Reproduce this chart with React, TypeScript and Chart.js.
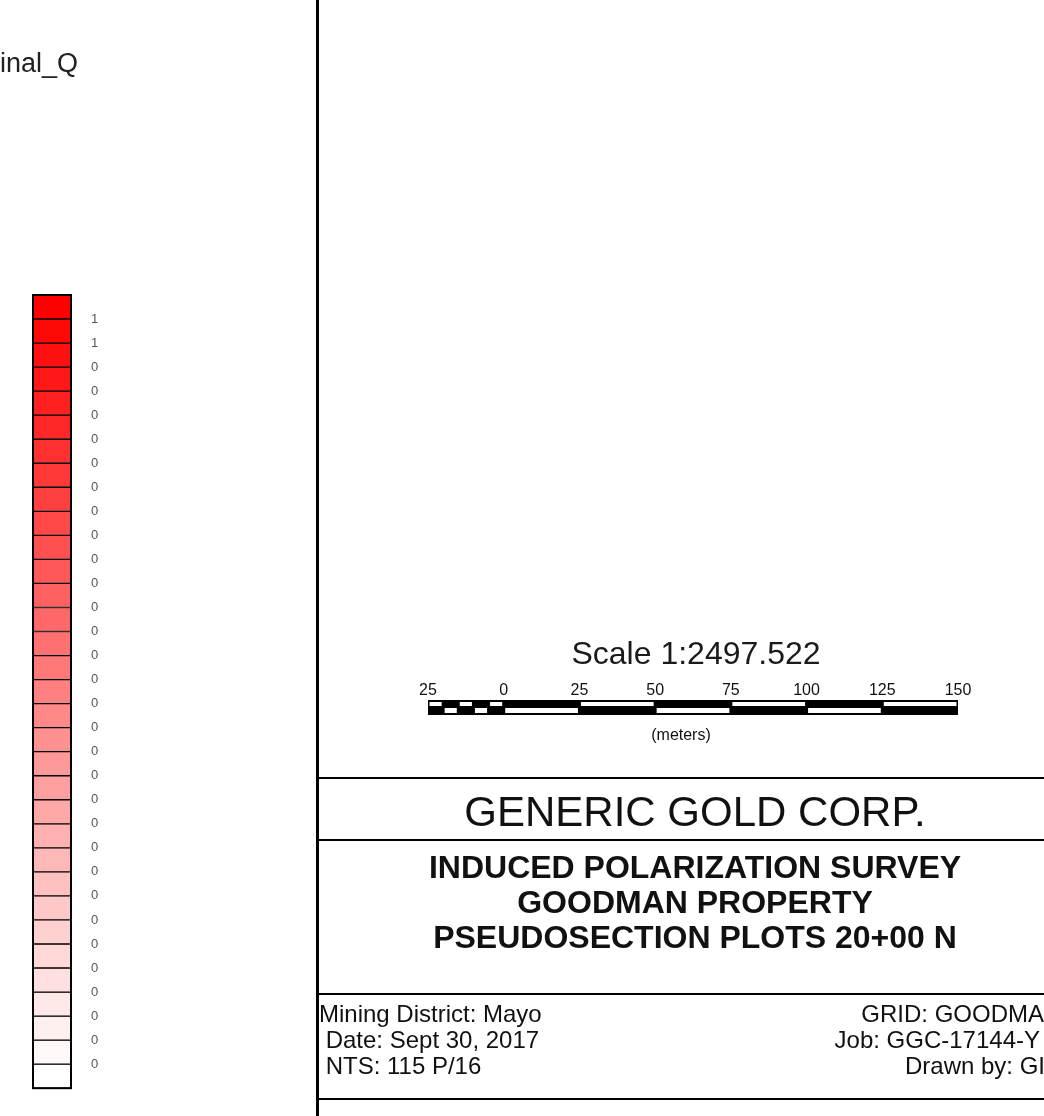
import React, { useEffect, useRef } from "react";
import { Chart, registerables } from "chart.js";

Chart.register(...registerables);

// ---- data ----
const legendTitle = "Final_Q";
const legendLabels = [
  "1", "1", "0", "0", "0", "0", "0", "0", "0", "0",
  "0", "0", "0", "0", "0", "0", "0", "0", "0", "0",
  "0", "0", "0", "0", "0", "0", "0", "0", "0", "0",
  "0", "0",
];
const rampColors = [
  "#ff0000", "#ff0808", "#ff1010", "#ff1818", "#ff2020", "#ff2828", "#ff3030",
  "#ff3838", "#ff4040", "#ff4848", "#ff5050", "#ff5858", "#ff6060", "#ff6868",
  "#ff7070", "#ff7878", "#ff8080", "#ff8888", "#ff9090", "#ff9898", "#ffa0a0",
  "#ffa8a8", "#ffb0b0", "#ffb8b8", "#ffc0c0", "#ffc8c8", "#ffd0d0", "#ffd8d8",
  "#ffe0e0", "#ffe8e8", "#fff0f0", "#fff8f8", "#ffffff",
];
const scaleTitle = "Scale 1:2497.522";
const scaleTickLabels = ["25", "0", "25", "50", "75", "100", "125", "150"];
const scaleTickMeters = [-25, 0, 25, 50, 75, 100, 125, 150];
const scaleUnits = "(meters)";
const companyName = "GENERIC GOLD CORP.";
const titleLines = [
  "INDUCED POLARIZATION SURVEY",
  "GOODMAN PROPERTY",
  "PSEUDOSECTION PLOTS 20+00 N",
];
const infoLeft = ["Mining District: Mayo", " Date: Sept 30, 2017", " NTS: 115 P/16"];
const infoRight = ["GRID: GOODMA", "Job: GGC-17144-Y", "Drawn by: GI"];

const FONT = '"Liberation Sans", Arial, Helvetica, sans-serif';

const decorPlugin = {
  id: "decor",
  beforeDraw(chart: any) {
    const ctx = chart.ctx;
    ctx.save();
    ctx.fillStyle = "#ffffff";
    ctx.fillRect(0, 0, chart.width, chart.height);
    ctx.restore();
  },
  afterDraw(chart: any) {
    const ctx = chart.ctx as CanvasRenderingContext2D;
    const W = chart.width;
    const ca = chart.chartArea;
    ctx.save();

    // outer frame of the colour ramp
    ctx.strokeStyle = "#000";
    ctx.lineWidth = 2;
    ctx.strokeRect(ca.left, ca.top, ca.right - ca.left, ca.bottom - ca.top);

    ctx.fillStyle = "#111";
    ctx.textBaseline = "alphabetic";

    // legend title (clipped at left edge)
    ctx.font = `27px ${FONT}`;
    ctx.textAlign = "right";
    ctx.fillStyle = "#222";
    ctx.fillText(legendTitle, 78, 72);

    // vertical frame line
    ctx.fillStyle = "#000";
    ctx.fillRect(316, 0, 3, chart.height);

    // scale title
    ctx.fillStyle = "#1a1a1a";
    ctx.textAlign = "center";
    ctx.font = `32px ${FONT}`;
    ctx.fillText(scaleTitle, 696, 664);

    // scale bar
    const x0 = 428, x1 = 958;
    const mMin = scaleTickMeters[0];
    const mMax = scaleTickMeters[scaleTickMeters.length - 1];
    const px = (m: number) => x0 + ((m - mMin) * (x1 - x0)) / (mMax - mMin);
    const by = 700, bh = 15;
    ctx.fillStyle = "#000";
    ctx.fillRect(x0, by, x1 - x0, bh);
    ctx.fillStyle = "#fff";
    const sub = 5;
    for (let k = 0; k < sub; k++) {
      const a = px(mMin + ((0 - mMin) * k) / sub) + 1.5;
      const b = px(mMin + ((0 - mMin) * (k + 1)) / sub) - 1.5;
      if (k % 2 === 0) ctx.fillRect(a, by + 2, b - a, 4);
      else ctx.fillRect(a, by + 8, b - a, 5);
    }
    for (let j = 1; j < scaleTickMeters.length - 1; j++) {
      const a = px(scaleTickMeters[j]) + 1.5;
      const b = px(scaleTickMeters[j + 1]) - 1.5;
      if (j % 2 === 0) ctx.fillRect(a, by + 2, b - a, 4);
      else ctx.fillRect(a, by + 8, b - a, 5);
    }
    ctx.fillStyle = "#111";
    ctx.font = `16px ${FONT}`;
    ctx.textAlign = "center";
    scaleTickMeters.forEach((m, i) => {
      ctx.fillText(scaleTickLabels[i], px(m), 695);
    });
    ctx.fillText(scaleUnits, 681, 740);

    // horizontal frame lines
    ctx.fillStyle = "#000";
    [778, 840, 994, 1099].forEach((y) => ctx.fillRect(317, y - 1, W - 317, 2));

    // company
    ctx.fillStyle = "#111";
    ctx.font = `42px ${FONT}`;
    ctx.textAlign = "center";
    ctx.fillText(companyName, 695, 826);

    // titles
    ctx.font = `bold 32px ${FONT}`;
    const tY = [878, 913, 948];
    titleLines.forEach((t, i) => ctx.fillText(t, 695, tY[i]));

    // info block
    ctx.font = `24px ${FONT}`;
    const iY = [1022, 1048, 1074];
    ctx.textAlign = "left";
    infoLeft.forEach((t, i) => ctx.fillText(t, 319, iY[i]));
    ctx.textAlign = "right";
    const rX = [1044, 1040, 1045];
    infoRight.forEach((t, i) => ctx.fillText(t, rX[i], iY[i]));

    ctx.restore();
  },
};

export default function App() {
  const ref = useRef<HTMLCanvasElement | null>(null);
  useEffect(() => {
    if (!ref.current) return;
    const cellLeft = 33, cellRight = 71, axisW = 60;
    const chart = new Chart(ref.current, {
      type: "bar",
      data: {
        labels: [legendTitle],
        datasets: rampColors.map((c, i) => ({
          label: `class ${i + 1}`,
          data: [1],
          backgroundColor: c,
          borderColor: "#000",
          borderWidth: 1,
          borderSkipped: false,
          barPercentage: 1,
          categoryPercentage: 1,
        })),
      },
      options: {
        responsive: false,
        animation: false,
        devicePixelRatio: 1,
        layout: {
          padding: {
            left: cellLeft,
            right: 1044 - cellRight - axisW,
            top: 295,
            bottom: 1116 - 1093,
          },
        },
        plugins: {
          legend: { display: false },
          tooltip: { enabled: false },
          title: { display: false },
        },
        scales: {
          x: { stacked: true, display: false },
          y: {
            stacked: true,
            position: "right",
            reverse: true,
            min: 0,
            max: rampColors.length,
            grid: { display: false, drawTicks: false },
            border: { display: false },
            afterFit: (s: any) => {
              s.width = axisW;
            },
            afterBuildTicks: (s: any) => {
              s.ticks = legendLabels.map((_, i) => ({ value: i + 1 }));
            },
            ticks: {
              autoSkip: false,
              padding: 20,
              color: "#555",
              font: { size: 13, family: FONT },
              callback: (v: any) => legendLabels[Number(v) - 1] ?? "",
            },
          },
        },
      } as any,
      plugins: [decorPlugin],
    });
    return () => chart.destroy();
  }, []);
  return (
    <div style={{ position: "absolute", left: 0, top: 0, width: 1044, height: 1116, background: "#fff" }}>
      <canvas ref={ref} width={1044} height={1116} style={{ display: "block" }} />
    </div>
  );
}
